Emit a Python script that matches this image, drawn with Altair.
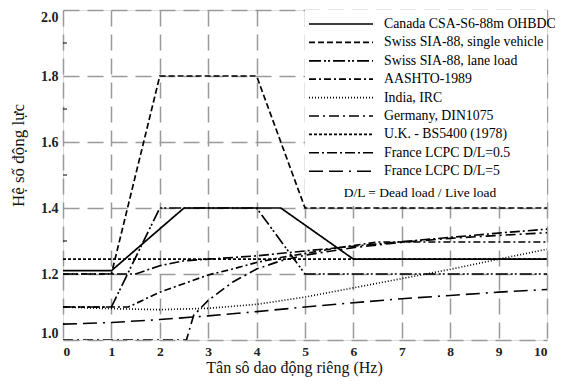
import altair as alt
import pandas as pd

series_names = [
    "Canada CSA-S6-88m OHBDC",
    "Swiss SIA-88, single vehicle",
    "Swiss SIA-88, lane load",
    "AASHTO-1989",
    "India, IRC",
    "Germany, DIN1075",
    "U.K. - BS5400 (1978)",
    "France LCPC D/L=0.5",
    "France LCPC D/L=5",
]

canada_x = [0, 1, 2.5, 4.5, 6, 10]
canada_y = [1.21, 1.21, 1.4, 1.4, 1.245, 1.245]

swiss_single_x = [0, 1, 2, 4, 5, 10]
swiss_single_y = [1.2, 1.2, 1.8, 1.8, 1.4, 1.4]

swiss_lane_x = [0, 1, 2, 4, 5, 10]
swiss_lane_y = [1.1, 1.1, 1.4, 1.4, 1.2, 1.2]

aashto_x = [0, 1.35, 2, 3, 3.5, 4, 4.5, 5, 5.7, 6.5, 10]
aashto_y = [1.1, 1.1, 1.145, 1.197, 1.215, 1.235, 1.25, 1.262, 1.28, 1.297, 1.297]

india_x = [0, 1, 2, 3, 4, 5, 6, 7, 8, 9, 10]
india_y = [1.1, 1.095, 1.092, 1.096, 1.108, 1.13, 1.158, 1.186, 1.214, 1.245, 1.275]

germany_x = [0, 2.55, 2.7, 3, 3.5, 4, 4.5, 5, 6, 7, 8, 9, 10]
germany_y = [1.0, 1.0, 1.075, 1.12, 1.175, 1.215, 1.24, 1.257, 1.28, 1.296, 1.308, 1.317, 1.325]

uk_x = [0, 10]
uk_y = [1.245, 1.245]

france05_x = [0, 1.5, 2, 2.5, 3, 4, 5, 6, 7, 8, 9, 10]
france05_y = [1.2, 1.2, 1.225, 1.24, 1.245, 1.255, 1.27, 1.284, 1.298, 1.311, 1.324, 1.336]

france5_x = [0, 1, 2, 3, 4, 5, 6, 7, 8, 9, 10]
france5_y = [1.048, 1.053, 1.062, 1.073, 1.086, 1.1, 1.113, 1.125, 1.135, 1.145, 1.153]

minor_ticks = [1.1, 1.3, 1.5, 1.7, 1.9]

all_x = [canada_x, swiss_single_x, swiss_lane_x, aashto_x, india_x,
         germany_x, uk_x, france05_x, france5_x]
all_y = [canada_y, swiss_single_y, swiss_lane_y, aashto_y, india_y,
         germany_y, uk_y, france05_y, france5_y]

rows = []
for name, xs, ys in zip(series_names, all_x, all_y):
    for i, (x, y) in enumerate(zip(xs, ys)):
        rows.append({"code": name, "f": x, "daf": y, "i": i})
df = pd.DataFrame(rows)

dashes = [
    [1, 0],
    [6, 3],
    [12, 3, 2, 2, 2, 3],
    [7, 3, 2, 3],
    [1, 2],
    [10, 4, 2, 4],
    [3, 2],
    [10, 3, 2, 3],
    [14, 6, 14, 6, 2, 6],
]
widths = [1.7, 1.6, 2.3, 2.3, 1.3, 2.3, 1.7, 1.7, 2.1]

FONT = "Liberation Serif"

x_scale = alt.Scale(domain=[0, 10], nice=False)
y_scale = alt.Scale(domain=[1.0, 2.0], nice=False, zero=False)

x_axis = alt.Axis(
    values=list(range(0, 11)), format="d", grid=True, gridColor="#9a9a9a",
    gridDash=[16, 8], gridWidth=1.5, ticks=False, domain=False,
    labelFont=FONT, labelFontSize=13.5, labelFontWeight="bold", labelColor="#222",
    labelPadding=4, title="Tân sô dao động riêng (Hz)", titleFont=FONT,
    titleFontSize=16, titleFontWeight="normal", titleColor="#111",
    titlePadding=2, titleX=231,
)
y_axis = alt.Axis(
    values=[1.0, 1.2, 1.4, 1.6, 1.8, 2.0], format=".1f", grid=True,
    gridColor="#9a9a9a", gridDash=[16, 8], gridWidth=1.5, ticks=False,
    domain=False, labelFont=FONT, labelFontSize=14, labelFontWeight="bold",
    labelColor="#222", labelPadding=5, labelFlush=True, labelFlushOffset=0,
    title="Hệ số động lực", titleFont=FONT,
    titleFontSize=17, titleFontWeight="normal", titleColor="#111",
    titleX=-36, titleY=145,
)

base = alt.Chart(df)

lines = base.mark_line(clip=True, strokeCap="butt", color="black").encode(
    x=alt.X("f:Q", scale=x_scale, axis=x_axis),
    y=alt.Y("daf:Q", scale=y_scale, axis=y_axis),
    strokeDash=alt.StrokeDash(
        "code:N",
        scale=alt.Scale(domain=series_names, range=dashes),
        sort=series_names,
        legend=alt.Legend(
            orient="none", legendX=245, legendY=6, title=None,
            direction="vertical", symbolType="stroke", symbolSize=4096,
            symbolStrokeColor="black", symbolStrokeWidth=1.7,
            clipHeight=16, rowPadding=2.4, labelFont=FONT, labelFontSize=13.8,
            labelOffset=10, labelColor="black", labelLimit=300, padding=0,
        ),
    ),
    strokeWidth=alt.StrokeWidth(
        "code:N", scale=alt.Scale(domain=series_names, range=widths), legend=None
    ),
    order=alt.Order("i:Q"),
)

legend_bg = alt.Chart(pd.DataFrame({"a": [0]})).mark_rect(fill="white").encode(
    x=alt.value(242), x2=alt.value(484), y=alt.value(0), y2=alt.value(196)
)

note = alt.Chart(pd.DataFrame({"t": ["D/L = Dead load / Live load"]})).mark_text(
    font=FONT, fontSize=13.5, color="black", align="center", baseline="middle"
).encode(text="t:N", x=alt.value(357), y=alt.value(183))

minor = alt.Chart(pd.DataFrame({"v": minor_ticks})).mark_rule(
    color="black", strokeWidth=1
).encode(
    y=alt.Y("v:Q", scale=y_scale), x=alt.value(0), x2=alt.value(4)
)

chart = alt.layer(legend_bg, lines, minor, note).properties(
    width=484, height=330,
    autosize=alt.AutoSizeParams(type="none"),
    padding={"left": 55, "top": 2, "right": 8, "bottom": 37},
).configure_view(
    stroke="black", strokeWidth=2.5
).configure(background="white")

chart.save("out.html", embed_options={"renderer": "svg", "actions": False})
